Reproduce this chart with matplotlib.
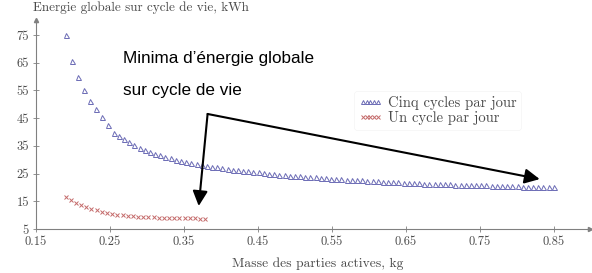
import matplotlib
matplotlib.use("Agg")
import matplotlib.pyplot as plt

# Cinq cycles par jour
masse_5 = [0.190, 0.199, 0.207, 0.215, 0.223, 0.231, 0.239, 0.247, 0.255,
           0.262, 0.269, 0.276, 0.283, 0.290, 0.297, 0.304, 0.311, 0.318, 0.325,
           0.332, 0.339, 0.346, 0.353, 0.360, 0.367, 0.374, 0.381, 0.388, 0.395,
           0.402, 0.409, 0.416, 0.423, 0.430, 0.437, 0.444, 0.451, 0.458, 0.465,
           0.472, 0.479, 0.486, 0.493, 0.500, 0.507, 0.514, 0.521, 0.528, 0.535,
           0.542, 0.549, 0.556, 0.563, 0.570, 0.577, 0.584, 0.591, 0.598, 0.605,
           0.612, 0.619, 0.626, 0.633, 0.640, 0.647, 0.654, 0.661, 0.668, 0.675,
           0.682, 0.689, 0.696, 0.703, 0.710, 0.717, 0.724, 0.731, 0.738, 0.745,
           0.752, 0.759, 0.766, 0.773, 0.780, 0.787, 0.794, 0.801, 0.808, 0.815,
           0.822, 0.829, 0.836, 0.843, 0.850]
energie_5 = [75.0, 65.6, 59.7, 55.0, 51.3, 48.3, 45.5, 42.6, 39.8,
             38.6, 37.4, 36.3, 35.3, 34.4, 33.6, 32.9, 32.2, 31.6, 31.0,
             30.5, 30.0, 29.5, 29.1, 28.7, 28.4, 28.1, 27.8, 27.5, 27.2,
             26.9, 26.6, 26.4, 26.2, 26.0, 25.8, 25.6, 25.4, 25.2, 25.0,
             24.8, 24.6, 24.5, 24.3, 24.2, 24.0, 23.9, 23.7, 23.6, 23.5,
             23.3, 23.2, 23.1, 23.0, 22.8, 22.7, 22.6, 22.5, 22.4, 22.3,
             22.2, 22.1, 22.0, 21.9, 21.8, 21.7, 21.6, 21.6, 21.5, 21.4,
             21.3, 21.3, 21.2, 21.1, 21.1, 21.0, 20.9, 20.9, 20.8, 20.8,
             20.7, 20.7, 20.6, 20.6, 20.5, 20.5, 20.4, 20.4, 20.3, 20.3,
             20.3, 20.2, 20.2, 20.2, 20.1]

# Un cycle par jour
masse_1 = [0.190, 0.197, 0.204, 0.211, 0.218, 0.225, 0.232, 0.239, 0.246,
           0.253, 0.260, 0.267, 0.274, 0.281, 0.288, 0.295, 0.302, 0.309,
           0.316, 0.323, 0.330, 0.337, 0.344, 0.351, 0.358, 0.365, 0.372, 0.379]
energie_1 = [16.5, 15.3, 14.3, 13.5, 12.8, 12.2, 11.7, 11.2, 10.8,
             10.5, 10.2, 10.0, 9.8, 9.6, 9.5, 9.4, 9.3, 9.2,
             9.1, 9.0, 9.0, 8.9, 8.9, 8.8, 8.8, 8.8, 8.7, 8.7]

xticks = [0.15, 0.25, 0.35, 0.45, 0.55, 0.65, 0.75, 0.85]
yticks = [5, 15, 25, 35, 45, 55, 65, 75]

W, H = 592, 273
fig = plt.figure(figsize=(W / 100, H / 100), dpi=100)
ax = fig.add_axes([36 / W, 1 - 229 / H, 554 / W, 209 / H])

serif = "cmr10"
gris = "#808080"
texte = "#4a4a4a"

ax.plot(masse_5, energie_5, linestyle="none", marker="^", markersize=3.6,
        markerfacecolor="none", markeredgecolor="#6b6bb5", markeredgewidth=0.7,
        label="Cinq cycles par jour")
ax.plot(masse_1, energie_1, linestyle="none", marker="x", markersize=3.2,
        color="#c46a6a", markeredgewidth=0.7, label="Un cycle par jour")

ax.set_xlim(0.15, 0.899)
ax.set_ylim(5, 80.4)
ax.set_xticks(xticks)
ax.set_yticks(yticks)
ax.set_xticklabels([f"{v:.2f}" for v in xticks], fontfamily=serif, fontsize=9, color=texte)
ax.set_yticklabels([str(v) for v in yticks], fontfamily=serif, fontsize=9, color=texte)
ax.tick_params(direction="inout", length=4, width=0.6, color=gris, pad=3)

for s in ["top", "right"]:
    ax.spines[s].set_visible(False)
for s in ["left", "bottom"]:
    ax.spines[s].set_color(gris)
    ax.spines[s].set_linewidth(0.8)
ax.plot(1, 0, ">", color=gris, markersize=3, transform=ax.transAxes, clip_on=False)
ax.plot(0, 1, "^", color=gris, markersize=3, transform=ax.transAxes, clip_on=False)

fig.text(33 / W, 1 - 8 / H, "Energie globale sur cycle de vie, kWh", fontfamily=serif,
         fontsize=9.5, color=texte, ha="left", va="center")
fig.text(318 / W, 1 - 264 / H, "Masse des parties actives, kg", fontfamily=serif,
         fontsize=9.7, color=texte, ha="center", va="center")

leg = ax.legend(loc="upper left", bbox_to_anchor=((347 - 36) / 554, (229 - 84) / 209),
                frameon=True, prop={"family": serif, "size": 10.5},
                markerscale=0.8, handlelength=1.6, handletextpad=0.4,
                borderpad=0.3, labelspacing=0.1, numpoints=5)
leg.get_frame().set_edgecolor("#f2f2f2")
leg.get_frame().set_linewidth(0.5)
for t in leg.get_texts():
    t.set_color(texte)

fig.text(123 / W, 1 - 58 / H, "Minima d\u2019énergie globale", fontfamily="Liberation Sans",
         fontsize=12.3, color="black", ha="left", va="center")
fig.text(123 / W, 1 - 91 / H, "sur cycle de vie", fontfamily="Liberation Sans",
         fontsize=12.3, color="black", ha="left", va="center")

start = (0.382, 46.5)
for tip in [(0.370, 13.3), (0.831, 23.0)]:
    ax.annotate("", xy=tip, xytext=start,
                arrowprops=dict(arrowstyle="-|>,head_length=0.9,head_width=0.45",
                                color="black", lw=1.5, shrinkA=0, shrinkB=0))

fig.savefig("out.png", dpi=100)
